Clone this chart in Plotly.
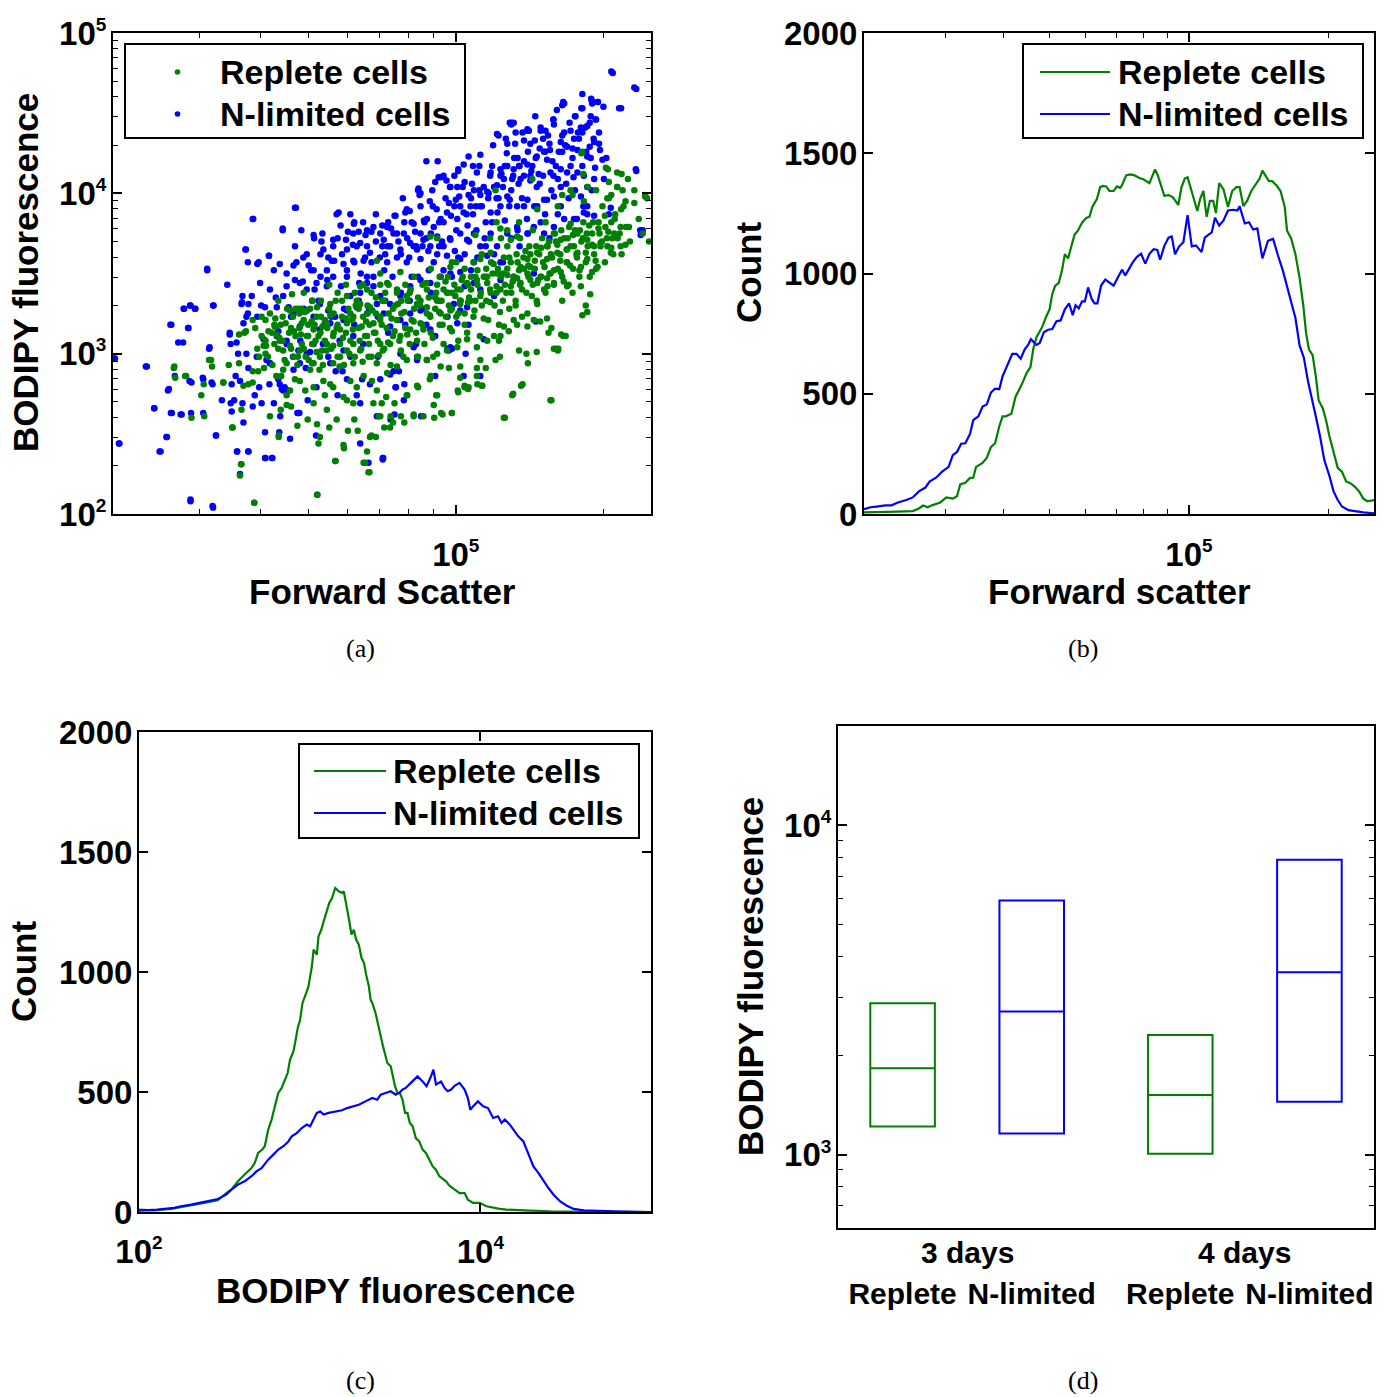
import plotly.graph_objects as go

W, H = 1383, 1397
GREEN = "rgb(0,128,0)"
BLUE = "rgb(0,0,255)"
SANS = "Liberation Sans"
SERIF = "Liberation Serif"

# ---------------- data ----------------
# (a) single-cell scatter: (log10 forward scatter, log10 BODIPY fluorescence)
replete_scatter = [
    (4.425,2.91),(4.448,2.86),(4.461,2.60),(4.481,2.74),(4.497,2.96),(4.526,2.82),(4.545,2.54),(4.562,2.31),
    (4.569,3.13),(4.577,2.81),(4.586,2.89),(4.589,2.07),(4.599,2.98),(4.608,3.05),(4.621,2.61),(4.633,3.17),
    (4.639,2.49),(4.644,2.86),(4.655,2.74),(4.664,2.67),(4.672,2.84),(4.677,2.55),(4.685,3.28),(4.690,3.03),
    (4.698,2.59),(4.707,2.94),(4.717,2.12),(4.720,2.44),(4.724,3.13),(4.733,2.74),(4.742,2.54),(4.755,2.33),
    (4.759,2.98),(4.772,2.41),(4.780,2.52),(4.793,2.59),(4.800,2.52),(4.812,2.32),(4.819,2.39),(4.824,2.26),
    (4.828,2.49),(4.837,2.48),(4.843,2.61),(4.854,2.54),(4.867,2.61),(4.875,2.69),(4.888,2.61),(4.901,2.74),
    (4.914,2.61),(4.923,2.79),(4.934,2.61),(4.949,2.86),(4.962,2.74),(4.970,2.63),(4.992,2.63),(5.005,2.76),
    (5.018,2.80),(5.025,2.78),(5.044,2.81),(5.053,2.80),(5.061,2.91),(5.100,2.60),(5.117,2.75),(5.136,2.81),
    (5.147,2.94),(5.165,3.01),(5.189,3.13),(5.195,2.71),(5.204,3.03),(5.208,3.02),(5.224,3.11),
    (4.591,3.16),(4.597,2.89),(4.604,3.11),(4.612,3.21),(4.617,2.98),(4.625,3.13),(4.630,3.06),(4.634,2.86),
    (4.638,3.03),(4.643,3.18),(4.647,3.08),(4.651,2.96),(4.660,3.13),(4.664,3.03),(4.668,3.23),(4.673,3.11),
    (4.677,2.93),(4.681,3.16),(4.686,3.06),(4.690,3.21),(4.694,2.98),(4.699,3.11),(4.703,3.28),(4.707,3.06),
    (4.712,3.18),(4.716,3.01),(4.720,3.11),(4.725,3.23),(4.729,2.93),(4.733,3.08),(4.738,3.16),(4.742,3.28),
    (4.746,3.03),(4.751,3.13),(4.755,3.33),(4.759,3.18),(4.764,3.06),(4.768,3.23),(4.772,2.93),(4.776,3.13),
    (4.781,3.28),(4.785,3.08),(4.789,3.21),(4.794,2.98),(4.798,3.33),(4.802,3.16),(4.807,3.03),(4.811,3.23),
    (4.815,3.11),(4.820,3.30),(4.824,3.18),(4.828,2.98),(4.833,3.13),(4.837,3.25),(4.841,3.08),(4.846,3.21),
    (4.850,3.33),(4.854,3.03),(4.859,3.16),(4.863,3.25),(4.867,2.93),(4.872,3.11),(4.876,3.30),(4.880,3.21),
    (4.885,3.08),(4.889,3.25),(4.893,2.98),(4.897,3.16),(4.902,3.33),(4.906,3.06),(4.910,3.21),(4.915,3.28),
    (4.919,3.13),(4.923,2.98),(4.928,3.33),(4.932,3.18),(4.936,3.06),(4.941,3.25),(4.945,3.35),(4.949,3.13),
    (4.954,2.98),(4.958,3.28),(4.962,3.43),(4.967,3.18),(4.971,3.33),(4.975,3.06),(4.980,3.23),(4.984,3.38),
    (4.988,3.16),(4.992,3.28),(4.997,3.43),(5.001,3.23),(5.005,3.08),(5.010,3.33),(5.014,3.48),(5.018,3.25),
    (5.023,3.13),(5.027,3.35),(5.031,3.48),(5.036,3.23),(5.040,3.33),(5.044,3.43),(5.049,3.11),(5.053,3.30),
    (5.057,3.48),(5.062,3.33),(5.066,3.21),(5.070,3.40),(5.075,3.50),(5.079,3.30),(5.083,3.38),(5.088,3.18),
    (5.092,3.48),(5.096,3.33),(5.100,3.43),(5.105,3.53),(5.109,3.28),(5.113,3.38),(5.118,3.48),(5.122,3.33),
    (5.126,3.57),(5.131,3.43),(5.135,3.23),(5.139,3.53),(5.144,3.38),(5.148,3.48),(5.152,3.62),(5.157,3.43),
    (5.161,3.53),(5.165,3.33),(5.170,3.62),(5.174,3.48),(5.178,3.57),(5.183,3.38),(5.187,3.67),(5.191,3.50),
    (5.196,3.60),(5.200,3.43),(5.204,3.70),(5.208,3.53),(5.213,3.62),(5.217,3.48),(5.221,3.72),(5.226,3.57),
    (5.230,3.43),(5.234,3.67),(5.239,3.53),(5.243,3.77),(5.247,3.60),(5.252,3.48),(5.256,3.70),(5.260,3.82),
    (5.265,3.57),(5.269,3.67),(5.273,3.48),(5.278,3.75),(5.282,3.62),(5.286,3.53),(5.291,3.82),(5.295,3.67),
    (5.299,3.92),(5.304,3.57),(5.308,3.72),(5.312,3.97),(5.317,3.82),(5.321,3.62),(5.325,3.87),(5.329,4.04),
    (5.334,3.75),(5.338,3.62),(5.342,3.92),(5.347,3.79),(5.351,4.09),(5.355,3.70),(5.364,3.94),(5.373,3.84),
    (5.381,3.75),(5.390,3.97),(5.394,3.70),(5.338,4.12),(5.312,4.07),(5.286,4.02),(5.260,4.12),(5.234,4.02),
    (5.208,3.92),(5.183,3.82),(5.157,3.77),(5.131,3.72),(5.105,3.67),(5.092,3.72),(5.083,3.82),(5.070,3.72),
    (5.053,3.62),(5.036,3.57),(5.018,3.53),(5.001,3.57),(4.984,3.48),(4.967,3.48),(4.949,3.53),(4.932,3.43),
    (4.915,3.48),(4.897,3.43),(4.880,3.38),(4.863,3.43),(4.846,3.43),(4.828,3.38),(4.811,3.43),(4.794,3.38),
    (4.776,3.43),(4.759,3.38),(4.742,3.43),(4.725,3.33),(4.707,3.33),(4.690,3.38),(4.673,3.28),(4.656,3.28),
    (4.638,3.33),(4.621,3.25),(4.604,3.23),(4.586,3.21),
    (5.256,4.25),(5.310,4.15),(5.317,3.99),(5.386,3.98),(5.364,4.02),(5.269,4.04),
    (5.062,3.53),(5.072,3.57),(5.086,3.53),(5.098,3.60),(5.112,3.57),(5.124,3.62),(5.138,3.60),(5.150,3.67),
    (5.164,3.67),(5.176,3.72),(5.190,3.70),(5.202,3.75),(5.215,3.77),(5.228,3.72),(5.241,3.67),(5.253,3.77),
    (5.267,3.75),(5.280,3.82),(5.293,3.75),(5.305,3.79),(5.319,3.72),(5.040,3.48),(5.025,3.43),(5.010,3.40),
    (4.992,3.38),(4.975,3.40),(4.958,3.35),(4.941,3.40),(4.923,3.35),(4.906,3.38),(4.889,3.33),(4.872,3.28),
    (4.854,3.33),(4.837,3.35),(4.820,3.25),(4.802,3.28),(4.785,3.25),(4.768,3.33),(4.751,3.25),(4.733,3.21),
    (4.716,3.23),(4.699,3.18),(4.681,3.25),(4.664,3.16),(4.647,3.23),(4.630,3.18),(4.612,3.08),(4.595,3.03),
    (4.426,2.92),(4.428,2.85),(4.450,2.86),(4.486,2.81),(4.487,2.61),(4.501,2.96),(4.503,2.92),(4.526,2.82),
    (4.537,2.93),(4.544,2.54),(4.558,3.12),(4.558,2.94),(4.563,2.65),(4.563,2.31),(4.560,2.24),(4.567,2.80),
    (4.572,3.14),(4.586,2.82),(4.589,2.07),(4.609,2.91),(4.613,3.05),(4.631,3.17),(4.635,3.12),(4.641,3.08),
    (4.639,2.48),(4.643,2.65),(4.655,2.68),(4.662,2.77),(4.666,3.37),(4.679,3.28),(4.686,3.19),(4.696,3.27),
    (4.682,2.83),(4.693,2.77),(4.703,2.90),(4.710,2.69),(4.717,2.56),(4.718,2.12),(4.723,2.48),(4.727,3.02),
    (4.737,2.65),(4.744,2.81),(4.750,2.94),(4.757,2.59),(4.754,2.33),(4.771,2.43),(4.778,2.71),(4.785,2.83),
    (4.791,2.94),(4.798,2.79),(4.805,3.02),(4.812,2.86),(4.819,3.11),(4.822,2.26),(4.815,2.32),(4.825,2.48),
    (4.832,2.69),(4.839,2.94),(4.846,3.06),(4.825,3.29),(4.819,3.40),(4.805,3.31),(4.791,3.23),(4.778,3.19),
    (4.764,3.15),(4.750,3.11),(4.737,3.06),(4.723,2.98),(4.710,2.94),(4.696,3.11),(4.682,3.02),(4.669,2.98),
    (4.655,2.94),(4.648,3.02),(4.832,3.19),(4.846,3.23),(4.839,3.58),(4.846,3.50),(4.805,3.42),(4.778,3.36),
    (4.744,3.31),(4.717,3.29),(4.662,3.27),(4.710,3.15),(4.737,3.19),(4.764,2.98),(4.778,3.02),(4.791,3.06),
    (4.808,3.17),(4.822,2.98),(4.829,2.83),(4.839,2.77),(4.846,2.61),(4.791,2.69),(4.771,2.73),(4.750,2.79),
    (4.730,2.83),(4.710,2.79),
    (5.215,3.12),(5.219,3.11),(5.200,3.03),(5.209,3.03),(5.193,2.71),(5.133,2.80),(5.115,2.74),(5.098,2.60),
    (5.144,3.00),(5.129,3.02),(5.090,2.98),(5.081,2.96),(5.050,2.96),(5.043,2.86),(5.054,2.80),(5.026,2.79),
    (5.018,2.79),(5.004,2.77),(4.992,2.63),(4.973,2.62),(4.956,2.60),(4.955,2.68),(4.960,2.74),(4.947,2.84),
    (4.921,2.80),(4.914,2.62),(4.895,2.57),(4.872,2.57),(4.866,2.54),(4.858,2.73),(4.849,2.69),(4.900,2.74),
    (4.969,2.92),(4.986,2.91),(5.009,2.92),(5.009,2.85),(5.043,2.91),(5.088,3.08),(5.091,3.11),(5.108,3.14),
    (5.125,3.18),(5.146,3.17),(5.159,3.21),(5.172,3.20),(5.186,3.22),(5.195,3.16),(5.217,3.33),(5.238,3.38),
    (5.258,3.24),(5.268,3.26),(5.265,3.30),(5.274,3.37),(5.255,3.42),(5.278,3.51),(5.227,3.42),(5.200,3.44),
    (5.180,3.40),(5.166,3.31),(5.146,3.25),(5.118,3.21),(5.098,3.17),(5.078,3.11),(5.064,3.08),(5.043,3.04),
    (5.023,3.09),(5.003,3.04),(4.982,3.02),(4.962,3.00),(4.941,2.96),(4.921,2.98),(4.900,2.96),(4.880,2.92),
    (4.860,2.88),(4.851,3.02),(4.866,3.06),(4.887,3.11),(4.907,3.15),(4.928,3.19),(4.948,3.23),(4.969,3.25),
    (4.989,3.27),(5.009,3.31),(5.030,3.33),(5.050,3.36),(5.071,3.38),(5.091,3.40),(5.112,3.42),(5.132,3.44),
    (5.152,3.46),(5.173,3.48),(5.193,3.50),(5.214,3.51),(4.860,3.44),(4.880,3.40),(4.900,3.36),(4.921,3.31),
    (4.941,3.29),(4.962,3.33),(4.982,3.38),(5.003,3.40),(5.023,3.44),(5.043,3.46),(5.064,3.48),(5.084,3.50),
    (5.105,3.49),(5.125,3.47),(5.146,3.50),(5.166,3.44),(5.186,3.47),
    (5.258,4.26),(5.306,4.16),(5.329,4.13),(5.329,4.04),(5.340,4.02),(5.309,3.97),(5.386,3.99),(5.346,3.95),
    (5.261,3.95),(5.217,3.99),(5.238,3.99),(5.166,3.90),(5.156,4.09),(5.081,4.02),(5.129,3.82),(5.105,3.77),
    (5.125,3.73),(5.112,3.71),(5.091,3.78),(5.040,3.74),(4.962,3.72),(4.948,3.73),(5.234,3.81),(5.231,3.79),
    (5.248,3.75),(5.268,3.71),(5.282,3.67),(5.295,3.69),(5.309,3.67),(5.323,3.75),(5.336,3.79),(5.336,3.67),
    (5.316,3.63),(5.346,3.68),(5.353,3.79),(5.200,3.75),(5.214,3.71),(5.186,3.67),(5.166,3.63),(5.146,3.59),
    (5.186,3.59),(5.207,3.63),(5.227,3.65),(5.248,3.63),(5.268,3.59),(5.289,3.54),(5.255,3.54),(5.227,3.57),
    (5.132,3.54),(5.152,3.54),(5.071,3.63),(5.050,3.59),(4.992,3.57),(4.989,3.54),(4.887,3.51),
    (4.612,3.00),(4.618,3.14),(4.626,2.93),(4.632,3.22),(4.640,3.10),(4.648,2.90),(4.653,3.19),(4.662,3.05),
    (4.670,3.14),(4.678,2.98),(4.684,3.12),(4.692,3.26),(4.700,2.96),(4.706,3.20),(4.714,3.08),(4.722,2.90),
    (4.728,3.17),(4.736,3.02),(4.744,3.24),(4.750,3.05),(4.757,3.16),(4.763,2.92),(4.770,3.10),(4.777,3.22),
    (4.783,3.00),(4.790,3.15),(4.796,3.30),(4.804,3.08),(4.810,2.95),(4.817,3.20),(4.823,3.06),(4.830,3.27),
    (4.836,3.13),(4.843,2.99),(4.849,3.18),(4.856,3.38),(4.862,3.07),(4.869,3.22),(4.875,3.14),(4.882,3.31),
    (4.888,3.02),(4.895,3.26),(4.901,3.12),(4.908,3.40),(4.914,3.20),(4.921,3.08),(4.927,3.30),(4.934,3.15),
    (4.940,3.44),(4.947,3.24),(4.953,3.10),(4.960,3.38),(4.966,3.26),(4.973,3.18),(4.979,3.45),(4.986,3.30),
    (4.992,3.14),(4.999,3.36),(5.005,3.25),(5.012,3.46),(5.018,3.18),(5.025,3.32),(5.031,3.40),(5.038,3.27),
    (5.044,3.52),(5.051,3.38),(5.057,3.22),(5.064,3.44),(5.070,3.32),(5.077,3.56),(5.083,3.42),(5.090,3.26),
    (5.096,3.50),(5.103,3.38),(5.109,3.60),(5.116,3.45),(5.122,3.30),(5.129,3.52),(5.135,3.40),(5.142,3.64),
    (5.148,3.55),(5.155,3.36),(5.161,3.58),(5.168,3.46),(5.174,3.66),(5.181,3.54),(5.187,3.42),(5.194,3.62),
    (5.200,3.52),(5.207,3.68),(5.213,3.58),(5.220,3.45),(5.226,3.65),(5.233,3.55),(5.239,3.74),(5.246,3.62),
    (5.252,3.52),(5.259,3.72),(5.265,3.63),(5.272,3.80),(5.278,3.68),(5.285,3.58),(5.291,3.78),(5.298,3.70),
    (5.304,3.86),(5.311,3.76),(5.317,3.66),(5.324,3.84),(5.330,3.72),(5.337,3.90),
]

nlimited_scatter = [
    (4.303,2.97),(4.314,2.44),(4.368,2.92),(4.385,2.66),(4.396,2.39),(4.410,2.48),(4.413,2.77),(4.418,3.18),
    (4.419,2.63),(4.439,2.62),(4.445,3.28),(4.455,3.16),(4.458,3.30),(4.459,2.09),(4.461,2.82),(4.468,3.28),
    (4.485,2.84),(4.493,3.52),(4.497,3.03),(4.502,2.82),(4.504,2.05),(4.506,3.30),(4.511,2.49),(4.523,2.71),
    (4.539,3.12),(4.543,2.64),(4.548,2.71),(4.554,2.39),(4.556,3.00),(4.560,2.25),(4.564,3.32),(4.567,2.57),
    (4.571,3.65),(4.573,3.23),(4.577,2.39),(4.586,3.84),(4.590,2.74),(4.595,3.56),(4.603,3.30),(4.612,2.35),
    (4.619,3.61),(4.625,2.35),(4.629,3.52),(4.633,3.35),(4.638,3.14),(4.647,3.77),(4.655,3.08),(4.662,2.47),
    (4.672,3.91),(4.675,3.57),(4.681,2.63),(4.688,3.45),(4.698,2.71),(4.705,3.52),(4.707,3.33),(4.715,2.49),
    (4.724,3.62),(4.728,3.75),(4.733,3.19),(4.740,2.98),(4.750,3.67),(4.757,3.87),(4.759,2.74),(4.766,3.42),
    (4.769,2.89),(4.776,3.71),(4.780,3.76),(4.792,3.81),(4.793,3.57),(4.798,2.74),(4.802,3.76),(4.806,3.50),
    (4.811,3.06),(4.819,3.48),(4.828,3.76),(4.837,3.70),(4.841,3.23),(4.850,3.80),(4.852,2.35),(4.854,3.52),
    (4.861,3.67),(4.867,2.59),(4.875,3.86),(4.880,3.60),(4.884,2.89),(4.888,3.38),(4.895,3.82),(4.901,3.72),
    (4.906,3.89),(4.910,3.48),(4.914,3.67),(4.919,3.06),(4.923,4.02),(4.932,3.67),(4.936,3.82),(4.940,4.20),
    (4.945,3.52),(4.949,3.75),(4.958,4.07),(4.962,3.62),(4.966,3.67),(4.970,4.10),(4.975,3.82),(4.983,3.03),
    (4.988,4.04),(4.992,3.48),(4.997,3.92),(5.001,3.77),(5.005,4.14),(5.009,3.33),(5.014,4.04),(5.018,3.62),
    (5.022,3.87),(5.027,3.70),(5.031,3.97),(5.035,4.17),(5.042,3.77),(5.048,4.17),(5.053,3.92),(5.057,4.04),
    (5.061,3.67),(5.066,3.97),(5.070,4.11),(5.074,3.82),(5.078,4.04),(5.083,3.97),(5.087,4.36),(5.091,4.11),
    (5.096,4.04),(5.100,3.83),(5.104,4.25),(5.109,3.92),(5.113,4.44),(5.117,4.11),(5.121,4.31),(5.126,3.77),
    (5.130,4.17),(5.135,3.97),(5.139,4.11),(5.146,4.39),(5.147,4.26),(5.152,4.08),(5.156,4.17),(5.160,3.92),
    (5.165,4.23),(5.171,4.06),(5.173,4.39),(5.178,4.11),(5.182,3.87),(5.186,4.21),(5.191,4.31),(5.195,4.02),
    (5.199,4.46),(5.204,4.17),(5.208,4.09),(5.217,4.26),(5.221,4.56),(5.225,4.06),(5.234,4.39),(5.238,4.22),
    (5.243,4.48),(5.247,3.84),(5.251,4.34),(5.258,4.17),(5.264,4.41),(5.268,4.04),(5.277,4.58),(5.281,4.34),
    (5.286,4.46),(5.290,4.57),(5.307,4.22),(5.320,4.75),(5.337,4.53),(5.368,4.65),(5.368,4.14),(5.381,3.77),
    (4.534,3.43),(4.541,3.06),(4.551,2.86),(4.577,2.91),(4.599,2.79),(4.608,3.09),(4.621,2.94),(4.629,2.69),
    (4.638,2.84),(4.642,2.61),(4.651,2.79),(4.664,3.23),(4.668,2.98),(4.677,2.63),(4.683,3.08),(4.690,3.28),
    (4.694,2.91),(4.703,3.01),(4.711,3.16),(4.716,2.79),(4.720,3.33),(4.729,3.06),(4.737,3.42),(4.746,3.23),
    (4.755,2.89),(4.763,3.08),(4.772,3.28),(4.778,3.48),(4.785,2.98),(4.793,3.18),(4.802,3.33),(4.809,2.84),
    (4.815,3.60),(4.823,3.28),(4.832,3.42),(4.841,2.98),(4.845,3.60),(4.856,3.33),(4.862,3.13),(4.871,3.48),
    (4.878,2.79),(4.888,3.62),(4.897,3.18),(4.906,3.33),(4.923,3.48),(4.932,3.28),(4.940,3.18),(4.949,3.38),
    (4.958,3.11),(4.966,3.33),(4.975,3.52),(4.983,3.23),(4.992,3.03),(5.005,3.60),(5.018,3.42),(5.031,3.52),
    (5.044,3.60),(5.061,3.48),(5.078,3.62),(5.096,3.57),(5.113,3.72),(5.130,3.67),(5.147,3.75),(5.173,3.82),
    (5.191,3.72),(5.208,3.87),(5.230,3.97),(5.243,4.02),(5.260,3.92),(5.277,4.02),(5.294,4.27),
    (4.655,3.50),(4.672,3.67),(4.685,3.77),(4.696,3.62),(4.711,3.72),(4.724,3.48),(4.740,3.60),(4.759,3.72),
    (4.768,3.62),(4.785,3.87),(4.798,3.67),(4.811,3.82),(4.819,3.67),(4.828,3.57),(4.837,3.87),(4.850,3.67),
    (4.862,3.82),(4.880,3.75),(4.892,3.97),(4.910,3.82),(4.919,3.67),(4.928,3.92),(4.940,3.72),(4.953,3.92),
    (4.966,3.82),(4.979,3.97),(4.988,3.72),(4.997,4.11),(5.009,3.92),(5.018,4.07),(5.035,3.87),(5.048,4.02),
    (5.061,3.82),(5.074,4.17),(5.087,3.97),(5.100,4.17),(5.113,4.02),(5.126,4.22),(5.139,3.92),(5.152,4.31),
    (5.165,4.04),(5.182,4.26),(5.199,4.11),(5.217,4.36),(5.234,4.17),(5.256,4.53),(5.273,4.29),
    (4.674,3.91),(4.761,3.88),(4.587,3.84),(4.793,3.82),(4.647,3.78),(4.710,3.74),(4.493,3.53),(4.572,3.65),
    (4.576,3.57),(4.598,3.57),(4.619,3.61),(4.459,3.30),(4.446,3.28),(4.469,3.28),(4.420,3.18),(4.454,3.16),
    (4.434,3.07),(4.444,3.07),(4.498,3.04),(4.505,3.30),(4.565,3.36),(4.584,3.36),(4.539,3.13),(4.305,2.97),
    (4.370,2.92),(4.427,2.86),(4.415,2.78),(4.457,2.83),(4.484,2.85),(4.504,2.81),(4.385,2.66),(4.421,2.63),
    (4.441,2.62),(4.460,2.63),(4.485,2.63),(4.411,2.48),(4.313,2.44),(4.398,2.39),(4.511,2.49),(4.554,2.39),
    (4.577,2.39),(4.611,2.35),(4.626,2.35),(4.459,2.08),(4.505,2.04),(4.541,2.69),(4.560,2.83),(4.543,2.81),
    (4.565,2.69),(4.586,2.67),(4.604,2.69),(4.620,2.81),(4.611,2.51),(4.640,2.51),(4.645,2.78),(4.659,2.77),
    (4.679,2.63),(4.563,3.31),(4.577,3.31),(4.567,3.19),(4.576,3.25),(4.595,3.23),(4.611,3.29),(4.635,3.29),
    (4.659,3.29),(4.553,3.07),(4.573,3.00),(4.594,2.98),(4.614,2.96),(4.635,3.11),(4.655,3.06),(4.679,3.02),
    (4.621,2.94),(4.641,2.81),(4.648,2.77),(4.669,2.90),(4.682,2.94),(4.696,3.00),(4.710,3.06),(4.723,3.15),
    (4.740,3.27),(4.754,3.23),(4.771,3.21),(4.785,3.36),(4.805,3.38),(4.819,3.44),(4.832,3.48),(4.846,3.36),
    (4.750,3.48),(4.737,3.52),(4.716,3.44),(4.696,3.40),(4.682,3.44),(4.672,3.46),(4.655,3.42),(4.641,3.56),
    (4.669,3.55),(4.689,3.60),(4.710,3.52),(4.730,3.65),(4.750,3.71),(4.778,3.65),(4.791,3.75),(4.805,3.69),
    (4.819,3.77),(4.832,3.79),(4.846,3.75),(4.771,3.56),(4.791,3.58),(4.812,3.58),(4.825,3.63),(4.747,3.58),
    (4.723,3.31),(4.696,3.27),(4.669,3.25),(4.648,3.36),(4.621,3.40),(4.601,3.44),(4.682,3.17),(4.710,3.23),
    (4.744,3.19),(4.778,3.27),(4.798,3.29),(4.819,3.25),(4.839,3.31),(4.791,3.11),(4.771,3.02),(4.744,2.94),
    (4.778,2.84),(4.805,2.69),(4.825,2.81),(4.846,2.84),(4.839,2.61),(4.805,2.44),(4.822,2.32),(4.851,2.35),
    (4.851,2.34),(4.875,2.62),(4.929,2.61),(4.894,2.71),(4.895,2.81),(4.877,2.79),(4.873,2.89),(4.866,2.87),
    (4.958,2.86),(5.020,3.00),(5.050,2.86),(5.016,2.86),(4.986,3.02),(4.989,3.04),(4.941,2.96),(4.921,2.96),
    (4.914,3.04),(4.887,3.00),(5.057,3.09),(5.163,3.20),(5.009,3.27),(5.003,3.19),(5.023,3.29),(5.026,3.18),
    (4.996,3.31),(4.948,3.15),(4.928,3.27),(4.907,3.25),(4.887,3.21),(4.866,3.17),(4.853,3.25),(4.866,3.31),
    (4.887,3.36),(4.907,3.42),(4.928,3.46),(4.948,3.44),(4.969,3.48),(4.989,3.50),(5.009,3.51),(5.037,3.44),
    (5.050,3.40),(5.078,3.36),(5.091,3.46),(5.118,3.48),(5.159,3.50),
    (5.317,4.76),(5.364,4.66),(5.333,4.53),(5.276,4.59),(5.289,4.57),(5.278,4.56),(5.219,4.57),(5.217,4.55),
    (5.258,4.53),(5.244,4.48),(5.199,4.46),(5.110,4.44),(5.118,4.44),(5.113,4.43),(5.285,4.46),(5.273,4.44),
    (5.268,4.42),(5.255,4.41),(5.258,4.38),(5.241,4.34),(5.282,4.32),(5.292,4.31),(5.084,4.37),(5.105,4.31),
    (5.122,4.38),(5.146,4.40),(5.149,4.39),(5.173,4.41),(5.183,4.39),(5.178,4.34),(5.161,4.33),(5.139,4.33),
    (5.200,4.43),(5.221,4.38),(5.214,4.32),(5.227,4.29),(5.238,4.28),(5.248,4.27),(5.268,4.23),(5.275,4.22),
    (5.299,4.21),(5.367,4.15),(5.210,4.26),(5.192,4.27),(5.180,4.26),(5.163,4.22),(5.139,4.20),(5.146,4.18),
    (5.129,4.17),(5.118,4.15),(5.105,4.17),(5.091,4.15),(5.071,4.13),(5.043,4.13),(5.026,4.23),(5.005,4.15),
    (4.963,4.20),(4.965,4.10),(4.975,4.11),(4.989,4.04),(5.003,4.04),(4.924,4.03),(4.928,4.00),(4.947,3.95),
    (4.986,3.94),(5.000,3.96),(5.026,3.99),(5.037,4.02),(5.050,3.99),(5.064,4.01),(5.084,4.05),(5.098,4.09),
    (5.115,4.09),(5.132,4.09),(5.152,4.11),(5.169,4.12),(5.193,4.13),(5.214,4.15),(5.227,4.13),(5.248,4.13),
    (5.261,4.11),(5.282,4.09),(5.302,4.09),(5.255,3.98),(5.268,3.92),(5.282,3.86),(5.268,3.87),(5.316,3.91),
    (5.312,3.87),(5.376,3.77),(5.377,3.74),(5.200,3.98),(5.214,3.92),(5.186,3.96),(5.166,3.92),(5.146,3.96),
    (5.125,3.92),(5.105,3.98),(5.091,3.92),(5.071,3.88),(5.050,3.92),(5.030,3.92),(5.016,3.88),(5.003,3.84),
    (4.982,3.88),(4.969,3.84),(4.955,3.79),(4.941,3.84),(4.928,3.75),(4.914,3.81),(4.900,3.90),(4.894,3.75),
    (4.877,3.86),(4.873,3.75),(4.860,3.79),(4.853,3.71),(4.866,3.67),(4.887,3.65),(4.907,3.69),(4.921,3.65),
    (4.934,3.71),(4.948,3.67),(4.962,3.73),(4.975,3.67),(4.989,3.71),(5.009,3.75),(5.023,3.71),(5.037,3.75),
    (5.050,3.67),(5.071,3.75),(5.084,3.67),(5.105,3.75),(5.125,3.79),(5.146,3.75),(5.159,3.79),(5.180,3.75),
    (5.200,3.79),(5.221,3.84),(5.241,3.84),(5.261,3.88),(4.900,3.57),(4.928,3.59),(4.955,3.57),(4.982,3.61),
    (5.009,3.59),(5.037,3.57),(5.064,3.61),(5.091,3.57),(4.860,3.57),
    (4.856,3.62),(4.868,3.78),(4.883,3.70),(4.897,3.88),(4.905,3.60),(4.917,3.76),(4.926,3.99),(4.935,3.83),
    (4.944,3.64),(4.952,4.02),(4.961,3.90),(4.972,3.70),(4.981,4.08),(4.990,3.86),(4.998,3.64),(5.007,3.98),
    (5.016,4.18),(5.024,3.80),(5.033,4.06),(5.041,3.92),(5.050,4.24),(5.059,3.72),(5.067,4.00),(5.076,4.30),
    (5.085,3.88),(5.093,4.12),(5.102,4.34),(5.110,3.96),(5.119,4.22),(5.128,4.06),(5.136,4.38),(5.145,3.84),
    (5.154,4.14),(5.162,4.48),(5.171,4.28),(5.180,3.96),(5.188,4.36),(5.197,4.20),(5.206,4.52),(5.214,4.04),
    (5.223,4.30),(5.232,4.44),(5.240,4.10),(5.249,4.38),(5.258,4.62),(5.266,4.26),(5.275,4.48),(5.284,4.16),
    (5.292,4.38),(5.301,4.54),(4.700,3.55),(4.712,3.40),(4.726,3.70),(4.738,3.46),(4.752,3.58),(4.765,3.80),
    (4.778,3.52),(4.790,3.68),(4.803,3.44),(4.816,3.74),
]

# (b) forward-scatter histograms: (log10 forward scatter, count)
fsc_hist_replete = [
    (4.301,7),(4.337,7),(4.374,10),(4.406,12),(4.419,23),(4.428,35),(4.438,28),(4.447,36),(4.465,48),(4.478,69),
    (4.492,64),(4.501,74),(4.508,123),(4.519,130),(4.529,150),(4.536,151),(4.542,196),(4.556,212),(4.565,233),(4.574,278),
    (4.583,294),(4.592,365),(4.599,406),(4.606,406),(4.618,417),(4.627,488),(4.640,537),(4.651,587),(4.659,611),(4.665,685),
    (4.672,735),(4.679,759),(4.685,781),(4.692,817),(4.700,850),(4.706,915),(4.712,948),(4.720,961),(4.727,1014),(4.733,1080),
    (4.740,1063),(4.747,1113),(4.754,1162),(4.761,1178),(4.770,1211),(4.779,1231),(4.786,1236),(4.792,1277),(4.802,1310),(4.809,1359),
    (4.815,1364),(4.822,1362),(4.829,1343),(4.838,1343),(4.845,1362),(4.852,1356),(4.856,1367),(4.865,1408),(4.874,1412),(4.883,1408),
    (4.893,1397),(4.902,1392),(4.915,1376),(4.920,1400),(4.927,1433),(4.933,1408),(4.938,1379),(4.947,1323),(4.956,1326),(4.965,1318),
    (4.977,1285),(4.984,1359),(4.991,1395),(4.997,1400),(5.002,1367),(5.011,1310),(5.018,1260),(5.024,1310),(5.031,1343),(5.038,1236),
    (5.045,1302),(5.052,1302),(5.058,1252),(5.065,1376),(5.074,1351),(5.084,1277),(5.093,1343),(5.102,1359),(5.109,1359),(5.117,1280),
    (5.125,1302),(5.134,1343),(5.143,1367),(5.152,1395),(5.158,1428),(5.165,1405),(5.172,1384),(5.179,1384),(5.188,1367),(5.197,1343),
    (5.206,1277),(5.211,1178),(5.220,1145),(5.229,1080),(5.238,981),(5.246,866),(5.252,751),(5.258,685),(5.266,661),(5.273,570),
    (5.279,472),(5.288,439),(5.295,389),(5.302,324),(5.311,258),(5.320,192),(5.329,176),(5.338,135),(5.348,127),(5.357,113),
    (5.366,94),(5.375,64),(5.384,53),(5.398,58),
]
fsc_hist_nlimited = [
    (4.301,20),(4.315,28),(4.328,31),(4.347,36),(4.360,36),(4.374,48),(4.392,58),(4.406,69),(4.419,94),(4.433,110),
    (4.442,135),(4.456,151),(4.469,176),(4.483,196),(4.492,245),(4.501,258),(4.510,292),(4.519,294),(4.529,333),(4.536,390),
    (4.547,406),(4.556,447),(4.565,455),(4.574,505),(4.583,521),(4.592,519),(4.599,572),(4.610,621),(4.620,666),(4.629,666),
    (4.638,646),(4.647,686),(4.654,703),(4.660,727),(4.665,716),(4.672,703),(4.679,711),(4.688,756),(4.697,766),(4.706,769),
    (4.715,802),(4.724,805),(4.733,851),(4.742,876),(4.750,827),(4.756,868),(4.763,855),(4.770,884),(4.776,884),(4.783,942),
    (4.791,893),(4.797,876),(4.803,876),(4.811,950),(4.820,975),(4.829,963),(4.838,950),(4.847,983),(4.856,1016),(4.863,992),
    (4.870,1016),(4.879,1046),(4.888,1069),(4.897,1082),(4.906,1041),(4.915,1082),(4.924,1101),(4.932,1098),(4.938,1057),(4.947,1115),
    (4.956,1149),(4.963,1154),(4.970,1080),(4.979,1113),(4.988,1130),(4.997,1243),(5.006,1113),(5.015,1117),(5.027,1089),(5.034,1149),
    (5.043,1163),(5.049,1171),(5.056,1232),(5.065,1199),(5.074,1220),(5.084,1262),(5.095,1265),(5.104,1262),(5.109,1279),(5.120,1208),
    (5.129,1213),(5.138,1183),(5.147,1188),(5.158,1063),(5.170,1136),(5.181,1144),(5.191,1078),(5.202,1012),(5.211,946),(5.220,881),
    (5.229,815),(5.238,700),(5.247,651),(5.256,552),(5.264,486),(5.273,404),(5.282,322),(5.291,225),(5.302,159),(5.311,94),
    (5.320,58),(5.329,31),(5.343,16),(5.357,11),(5.375,7),(5.398,3),
]

# (c) BODIPY fluorescence histograms: (log10 fluorescence, count)
bodipy_hist_replete = [
    (2.000,10),(2.088,7),(2.187,13),(2.285,24),(2.383,38),(2.462,49),(2.511,79),(2.541,93),(2.580,128),(2.619,156),
    (2.659,183),(2.678,204),(2.698,246),(2.722,260),(2.737,274),(2.757,343),(2.777,385),(2.796,440),(2.816,496),(2.836,517),
    (2.855,551),(2.871,579),(2.885,635),(2.905,669),(2.918,718),(2.930,767),(2.944,801),(2.958,871),(2.973,899),(2.993,940),
    (3.003,982),(3.013,1024),(3.023,1093),(3.042,1072),(3.052,1149),(3.068,1176),(3.082,1211),(3.101,1260),(3.115,1288),(3.131,1308),
    (3.150,1350),(3.170,1336),(3.190,1329),(3.200,1336),(3.214,1288),(3.229,1225),(3.245,1156),(3.259,1176),(3.272,1135),(3.288,1114),
    (3.304,1058),(3.318,1038),(3.331,989),(3.347,940),(3.357,885),(3.367,871),(3.386,829),(3.402,774),(3.416,732),(3.430,690),
    (3.445,649),(3.455,621),(3.475,607),(3.489,565),(3.500,524),(3.514,496),(3.528,496),(3.544,468),(3.559,413),(3.573,413),
    (3.587,371),(3.603,357),(3.622,308),(3.642,294),(3.662,260),(3.681,246),(3.701,218),(3.721,190),(3.740,176),(3.760,149),
    (3.780,138),(3.799,128),(3.819,110),(3.849,93),(3.878,79),(3.908,79),(3.927,51),(3.957,38),(3.996,38),(4.035,24),
    (4.075,17),(4.114,13),(4.153,10),(4.212,7),(4.291,6),(4.409,3),(4.547,1),(4.743,1),(5.000,0),
]
bodipy_hist_nlimited = [
    (2.000,6),(2.108,10),(2.206,17),(2.246,24),(2.305,31),(2.383,44),(2.462,54),(2.511,72),(2.541,93),(2.580,114),
    (2.619,128),(2.659,149),(2.688,169),(2.718,183),(2.757,218),(2.787,239),(2.816,260),(2.846,274),(2.875,294),(2.895,315),
    (2.924,329),(2.954,350),(2.983,364),(3.003,357),(3.023,385),(3.042,413),(3.062,419),(3.082,406),(3.111,413),(3.150,419),
    (3.190,424),(3.219,433),(3.249,440),(3.288,447),(3.327,461),(3.367,475),(3.396,468),(3.416,489),(3.445,496),(3.475,503),
    (3.504,489),(3.524,496),(3.544,510),(3.563,517),(3.593,538),(3.613,551),(3.632,565),(3.662,544),(3.685,524),(3.711,565),
    (3.725,593),(3.740,531),(3.770,544),(3.790,517),(3.809,503),(3.829,510),(3.849,526),(3.878,538),(3.908,510),(3.927,475),
    (3.941,426),(3.957,440),(3.986,461),(4.016,440),(4.045,433),(4.075,392),(4.104,399),(4.124,371),(4.144,385),(4.173,364),
    (4.193,343),(4.222,315),(4.252,294),(4.281,246),(4.311,190),(4.340,163),(4.370,128),(4.399,100),(4.429,72),(4.468,44),
    (4.507,26),(4.547,13),(4.606,7),(4.684,4),(4.783,3),(4.920,1),(5.000,0),
]

# (d) BODIPY fluorescence quartiles per condition
box_groups = ["3 days", "4 days"]
box_labels = ["Replete", "N-limited", "Replete", "N-limited"]
box_pos = [1.0, 2.0, 3.15, 4.15]
box_q1 = [1219, 1160, 1008, 1449]
box_median = [1832, 2722, 1519, 3583]
box_q3 = [2884, 5915, 2308, 7852]

# ---------------- helpers ----------------
def px(x):
    return x / W


def py(y):
    return 1 - y / H


def unpack_log(rows):
    return [10 ** r[0] for r in rows], [r[1] for r in rows]


def unpack_loglog(rows):
    return [10 ** r[0] for r in rows], [10 ** r[1] for r in rows]


def pow10(e):
    return f"10<sup><span style='font-size:19px'>{e}</span></sup>"


TICKFONT = dict(family=SANS, size=33, color="black", weight="bold")
TITLEFONT = dict(family=SANS, size=35, color="black", weight="bold")


def frame(**kw):
    base = dict(showline=True, linecolor="black", linewidth=2, mirror="ticks",
                ticks="inside", ticklen=9, tickwidth=1.5, tickcolor="black",
                showgrid=False, zeroline=False, tickfont=TICKFONT,
                automargin=False, tickangle=0)
    base.update(kw)
    return base


def minor(vals):
    return dict(tickmode="array", tickvals=vals, ticks="inside", ticklen=5,
                tickwidth=1.2, tickcolor="black", showgrid=False)


fsc_minor = [3e4, 4e4, 5e4, 6e4, 7e4, 8e4, 9e4, 2e5]
decade_minor = [m * 10 ** d for d in (2, 3, 4) for m in range(2, 10)]

fig = go.Figure()

# ---------------- (a) scatter ----------------
xs, ys = unpack_loglog(nlimited_scatter)
fig.add_trace(go.Scatter(x=xs, y=ys, mode="markers", name="N-limited cells",
                         marker=dict(color=BLUE, size=6.5, line=dict(width=0)),
                         xaxis="x", yaxis="y", showlegend=False))
xs, ys = unpack_loglog(replete_scatter)
fig.add_trace(go.Scatter(x=xs, y=ys, mode="markers", name="Replete cells",
                         marker=dict(color=GREEN, size=6.5, line=dict(width=0)),
                         xaxis="x", yaxis="y", showlegend=False))

# ---------------- (b) forward scatter histograms ----------------
for rows, col, name in ((fsc_hist_replete, GREEN, "Replete cells"),
                        (fsc_hist_nlimited, BLUE, "N-limited cells")):
    xs, ys = unpack_log(rows)
    fig.add_trace(go.Scatter(x=xs, y=ys, mode="lines", name=name,
                             line=dict(color=col, width=2.2),
                             xaxis="x2", yaxis="y2", showlegend=False))

# ---------------- (c) BODIPY histograms ----------------
for rows, col, name in ((bodipy_hist_replete, GREEN, "Replete cells"),
                        (bodipy_hist_nlimited, BLUE, "N-limited cells")):
    xs, ys = unpack_log(rows)
    fig.add_trace(go.Scatter(x=xs, y=ys, mode="lines", name=name,
                             line=dict(color=col, width=2.2),
                             xaxis="x3", yaxis="y3", showlegend=False))

# ---------------- (d) quartile boxes ----------------
for idx, col in (([0, 2], GREEN), ([1, 3], BLUE)):
    fig.add_trace(go.Box(
        x=[box_pos[i] for i in idx],
        q1=[box_q1[i] for i in idx],
        median=[box_median[i] for i in idx],
        q3=[box_q3[i] for i in idx],
        lowerfence=[box_q1[i] for i in idx],
        upperfence=[box_q3[i] for i in idx],
        width=0.5, whiskerwidth=0, boxpoints=False,
        fillcolor="rgba(0,0,0,0)", line=dict(color=col, width=2),
        xaxis="x4", yaxis="y4", showlegend=False, hoverinfo="y"))

# ---------------- axes ----------------
dom_a_x = [px(113), px(651)]
dom_b_x = [px(864), px(1374)]
dom_top_y = [py(514), py(33)]
dom_c_x = [px(139), px(651)]
dom_c_y = [py(1212), py(732)]
dom_d_x = [px(838), px(1374)]
dom_d_y = [py(1228), py(726)]

fig.update_layout(
    template="none",
    width=W, height=H, margin=dict(l=0, r=0, t=0, b=0, autoexpand=False),
    paper_bgcolor="white", plot_bgcolor="white", showlegend=False,
    boxmode="overlay",
    xaxis=frame(domain=dom_a_x, anchor="y", type="log", range=[4.301, 5.398],
                tickvals=[1e5], ticktext=[pow10(5)], minor=minor(fsc_minor),
                ticklabelstandoff=10),
    yaxis=frame(domain=dom_top_y, anchor="x", type="log", range=[2, 5],
                tickvals=[1e2, 1e3, 1e4, 1e5],
                ticktext=[pow10(2), pow10(3), pow10(4), pow10(5)],
                minor=minor(decade_minor), ticklabelstandoff=-2),
    xaxis2=frame(domain=dom_b_x, anchor="y2", type="log", range=[4.301, 5.398],
                 tickvals=[1e5], ticktext=[pow10(5)], minor=minor(fsc_minor),
                 ticklabelstandoff=10),
    yaxis2=frame(domain=dom_top_y, anchor="x2", range=[0, 2000],
                 tickvals=[0, 500, 1000, 1500, 2000], ticklabelstandoff=-2),
    xaxis3=frame(domain=dom_c_x, anchor="y3", type="log", range=[2, 5],
                 tickvals=[1e2, 1e4], ticktext=[pow10(2), pow10(4)],
                 ticklabelstandoff=9),
    yaxis3=frame(domain=dom_c_y, anchor="x3", range=[0, 2000],
                 tickvals=[0, 500, 1000, 1500, 2000], ticklabelstandoff=-2),
    xaxis4=frame(domain=dom_d_x, anchor="y4", range=[0.5, 4.65], ticks="",
                 tickvals=box_pos, ticktext=box_labels, ticklabelstandoff=38,
                 tickfont=dict(family=SANS, size=30, color="black", weight="bold")),
    yaxis4=frame(domain=dom_d_y, anchor="x4", type="log", range=[2.778, 4.301],
                 tickvals=[1e3, 1e4], ticktext=[pow10(3), pow10(4)],
                 minor=minor([700, 800, 900] + [m * 1000 for m in range(2, 10)]),
                 ticklabelstandoff=-2),
)

# ---------------- legends ----------------
shapes = []
annotations = []


def legend_box(x0, y0, x1, y1, rows, kind):
    shapes.append(dict(type="rect", xref="paper", yref="paper",
                       x0=px(x0), x1=px(x1), y0=py(y1), y1=py(y0),
                       line=dict(color="black", width=2), fillcolor="white",
                       layer="above"))
    for (text, col, ly, sx0, sx1, tx) in rows:
        if kind == "dot":
            cx = (sx0 + sx1) / 2
            shapes.append(dict(type="circle", xref="paper", yref="paper",
                               x0=px(cx - 2.8), x1=px(cx + 2.8),
                               y0=py(ly + 2.8), y1=py(ly - 2.8),
                               line=dict(width=0), fillcolor=col, layer="above"))
        else:
            shapes.append(dict(type="line", xref="paper", yref="paper",
                               x0=px(sx0), x1=px(sx1), y0=py(ly), y1=py(ly),
                               line=dict(color=col, width=2), layer="above"))
        annotations.append(dict(text=text, xref="paper", yref="paper",
                                x=px(tx), y=py(ly), xanchor="left",
                                yanchor="middle", showarrow=False,
                                font=dict(family=SANS, size=34, color="black",
                                          weight="bold")))


legend_box(125, 44, 465, 138,
           [("Replete cells", GREEN, 72, 175, 180, 218),
            ("N-limited cells", BLUE, 114, 175, 180, 218)], "dot")
legend_box(1023, 44, 1363, 138,
           [("Replete cells", GREEN, 72, 1040, 1110, 1116),
            ("N-limited cells", BLUE, 114, 1040, 1110, 1116)], "line")
legend_box(299, 744, 639, 838,
           [("Replete cells", GREEN, 771, 314, 386, 391),
            ("N-limited cells", BLUE, 813, 314, 386, 391)], "line")

# ---------------- axis titles and captions ----------------
def label(text, x, y, angle=0, font=TITLEFONT, xref="paper"):
    annotations.append(dict(text=text, xref=xref, yref="paper",
                            x=x if xref != "paper" else px(x), y=py(y),
                            xanchor="center", yanchor="middle",
                            textangle=angle, showarrow=False, font=font))


label("BODIPY fluorescence", 25, 273, -90)
label("Forward Scatter", 382, 591)
label("Count", 748, 273, -90)
label("Forward scatter", 1119, 591)
label("Count", 23, 972, -90)
label("BODIPY fluorescence", 395, 1290)
label("BODIPY fluorescence", 750, 977, -90)
DAYFONT = dict(family=SANS, size=30, color="black", weight="bold")
label(box_groups[0], (box_pos[0] + box_pos[1]) / 2, 1252, font=DAYFONT, xref="x4")
label(box_groups[1], (box_pos[2] + box_pos[3]) / 2, 1252, font=DAYFONT, xref="x4")

CAPFONT = dict(family=SERIF, size=26, color="black")
for cap, cx, cy in (("(a)", 360, 648), ("(b)", 1083, 648),
                    ("(c)", 360, 1380), ("(d)", 1083, 1380)):
    label(cap, cx, cy, font=CAPFONT)

fig.update_layout(shapes=shapes, annotations=annotations)

fig.write_html("out.html")
